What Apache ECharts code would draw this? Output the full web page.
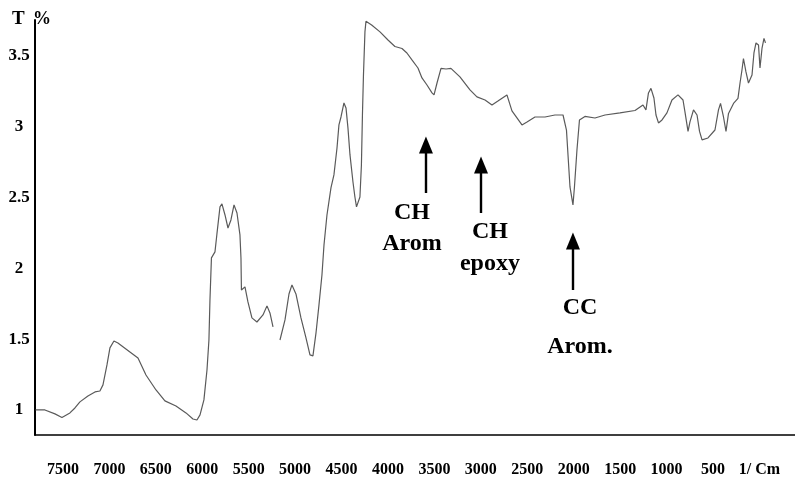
<!DOCTYPE html>
<html>
<head>
<meta charset="utf-8">
<script src="https://cdn.jsdelivr.net/npm/echarts@6/dist/echarts.min.js"></script>
<style>
html,body{margin:0;padding:0;background:#fff;}
#chart{width:795px;height:485px;}
</style>
</head>
<body>
<div id="chart"></div>
<script>
// Wavenumber (1/cm) and transmittance; '-' marks a gap in the trace
const wavenumber = [7795,7694,7586,7511,7425,7371,7317,7231,7155,7102,7069,7026,6994,6951,6908,6822,6692,6606,6498,6402,6283,6175,6100,6057,6024,5982,5949,5928,5917,5901,5863,5842,5809,5788,5755,5723,5691,5658,5626,5594,5583,5578,5540,5508,5465,5411,5346,5303,5271,5238,5200,5163,5109,5066,5034,4991,4937,4883,4840,4808,4775,4743,4711,4689,4657,4614,4582,4549,4528,4506,4474,4452,4431,4409,4377,4356,4339,4318,4302,4286,4275,4264,4248,4237,4176,4086,4000,3925,3849,3796,3742,3677,3634,3580,3526,3504,3472,3429,3375,3322,3225,3117,3042,2955,2880,2816,2719,2665,2557,2503,2417,2309,2202,2115,2078,2040,2008,1992,1965,1938,1879,1771,1663,1502,1340,1254,1222,1195,1168,1136,1114,1087,1049,996,942,877,823,802,769,748,710,672,645,618,554,479,441,419,387,360,333,279,231,209,188,172,145,118,80,59,37,10,-6,-28,-49,-65];
const transmittance = [1.00,1.00,0.972,0.947,0.979,1.014,1.057,1.099,1.127,1.134,1.177,1.318,1.438,1.487,1.473,1.431,1.367,1.247,1.141,1.064,1.028,0.979,0.936,0.929,0.965,1.071,1.282,1.494,1.777,2.074,2.116,2.243,2.434,2.455,2.377,2.285,2.342,2.448,2.391,2.236,2.073,1.847,1.869,1.763,1.650,1.621,1.671,1.735,1.685,1.586,'-',1.494,1.636,1.819,1.883,1.819,1.650,1.509,1.389,1.382,1.544,1.742,1.953,2.165,2.377,2.568,2.660,2.850,3.013,3.069,3.168,3.133,2.992,2.801,2.610,2.504,2.434,2.427,2.504,2.730,3.083,3.366,3.670,3.745,3.719,3.670,3.613,3.567,3.553,3.521,3.472,3.415,3.345,3.295,3.239,3.225,3.309,3.412,3.408,3.412,3.352,3.260,3.211,3.189,3.154,3.182,3.225,3.112,3.013,3.034,3.069,3.069,3.083,3.083,2.977,2.575,2.448,2.575,2.836,3.048,3.073,3.062,3.083,3.098,3.115,3.154,3.119,3.239,3.271,3.203,3.083,3.027,3.048,3.098,3.189,3.225,3.189,3.105,2.967,3.034,3.119,3.083,2.967,2.907,2.921,2.977,3.119,3.165,3.069,2.967,3.094,3.165,3.200,3.309,3.401,3.482,3.387,3.309,3.366,3.521,3.592,3.578,3.415,3.556,3.624,3.592];

const xTicks = [7500,7000,6500,6000,5500,5000,4500,4000,3500,3000,2500,2000,1500,1000,500,0];
const yTicks = [1,1.5,2,2.5,3,3.5];

// Annotation arrows: wavenumber, tail and head values of T
const arrowX = [3591, 2998, 2008];
const arrowFrom = [2.532, 2.391, 1.847];
const arrowTo = [2.871, 2.730, 2.194];
// Annotation texts and their anchor points
const noteText = ['CH\nArom', 'CH\nepoxy', 'CC\nArom.'];
const noteX = [3742, 2902, 1932];
const noteY = [2.285, 2.148, 1.583];
const noteLineHeight = [31, 32, 39];

const chart = echarts.init(document.getElementById('chart'));
const serif = '"Liberation Serif","Times New Roman",serif';

const points = wavenumber.map((w, i) => [w, transmittance[i]]);

chart.setOption({
  animation: false,
  backgroundColor: '#ffffff',
  grid: { left: 35, right: 0, top: 20, bottom: 50 },
  xAxis: {
    type: 'value',
    inverse: true,
    min: -383,
    max: 7801,
    axisLine: { show: true, onZero: false, lineStyle: { color: '#000', width: 1.5 } },
    axisTick: { show: false },
    splitLine: { show: false },
    axisLabel: {
      customValues: xTicks,
      margin: 27,
      color: '#000',
      fontFamily: serif,
      fontWeight: 'bold',
      fontSize: 16,
      formatter: v => (v === 0 ? '1/ Cm' : String(v))
    }
  },
  yAxis: {
    type: 'value',
    min: 0.823,
    max: 3.754,
    axisLine: { show: true, onZero: false, lineStyle: { color: '#000', width: 2 } },
    axisTick: { show: false },
    splitLine: { show: false },
    axisLabel: {
      customValues: yTicks,
      margin: 16,
      align: 'center',
      color: '#000',
      fontFamily: serif,
      fontWeight: 'bold',
      fontSize: 17,
      formatter: v => String(v)
    }
  },
  graphic: [
    { type: 'text', left: 12, top: 10, style: { text: 'T', fill: '#000', font: 'bold 19px ' + serif } },
    { type: 'text', left: 33, top: 10, style: { text: '%', fill: '#000', font: 'bold 18px ' + serif } }
  ],
  series: [{
    type: 'line',
    data: points,
    showSymbol: false,
    connectNulls: false,
    lineStyle: { color: '#5a5a5a', width: 1.2 },
    z: 2,
    markLine: {
      silent: true,
      symbol: ['none', 'triangle'],
      symbolSize: [14, 17],
      lineStyle: { color: '#000', width: 2.4, type: 'solid' },
      label: { show: false },
      data: arrowX.map((x, i) => [{ coord: [x, arrowFrom[i]] }, { coord: [x, arrowTo[i]] }])
    },
    markPoint: {
      silent: true,
      symbol: 'rect',
      symbolSize: 0,
      itemStyle: { color: 'transparent' },
      data: noteText.map((t, i) => ({
        coord: [noteX[i], noteY[i]],
        label: {
          show: true,
          position: 'inside',
          formatter: t,
          color: '#000',
          fontFamily: serif,
          fontWeight: 'bold',
          fontSize: 24,
          lineHeight: noteLineHeight[i],
          align: 'center',
          verticalAlign: 'middle'
        }
      }))
    }
  }]
});
</script>
</body>
</html>
